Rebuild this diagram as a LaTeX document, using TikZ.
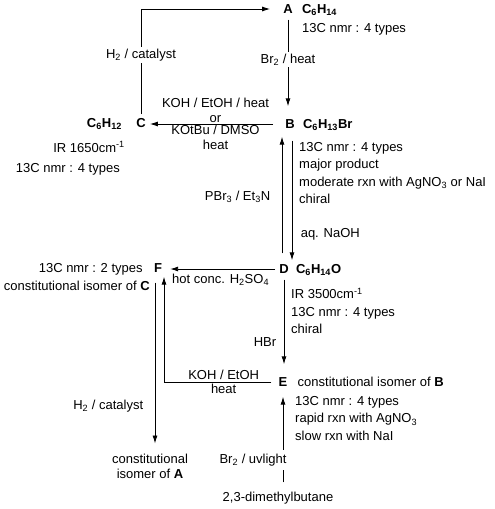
\documentclass[tikz,border=0pt]{standalone}
\usepackage{fontspec}
\setmainfont{Liberation Sans}
\usetikzlibrary{arrows.meta, positioning}

\newcommand{\chemfont}{\fontsize{13}{17.5}\selectfont}
\newcommand{\condfont}{\fontsize{13}{15}\selectfont}
\newcommand{\chsub}[1]{\textsubscript{#1}}
\newcommand{\chsup}[1]{\textsuperscript{#1}}

\tikzstyle{cmpd}    = [font=\chemfont\bfseries, inner sep=4pt]
\tikzstyle{formula} = [font=\chemfont\bfseries, inner sep=0pt]
\tikzstyle{info}    = [font=\chemfont, inner sep=0pt, align=left]
\tikzstyle{cond}    = [font=\condfont, inner sep=2pt, align=center]
\tikzstyle{arrow}   = [line width=0.9pt, -{Latex[length=8pt,width=5pt]}]

\begin{document}
\begin{tikzpicture}[x=1pt, y=-1pt, every node/.style={font=\chemfont}]
  \useasboundingbox (0,0) rectangle (495,509);

  % compounds
  \node[cmpd] (A) at (288,9)   {A};
  \node[cmpd] (B) at (290,124) {B};
  \node[cmpd] (C) at (141,123) {C};
  \node[cmpd] (D) at (284,269) {D};
  \node[cmpd] (E) at (283,382) {E};
  \node[cmpd] (F) at (158,268) {F};
  \node (isoA) [cond] at (150,466) {constitutional\\isomer of \textbf{A}};
  \node (dmb)  at (278,498) {2,3-dimethylbutane};

  % formulas and data
  \node[formula, base right=5pt of A] (Aform) {C\chsub{6}H\chsub{14}};
  \node[info, anchor=west] (Ainfo) at (302,29) {13C nmr : 4 types};

  \node[formula, base right=4pt of B] (Bform) {C\chsub{6}H\chsub{13}Br};
  \node[info, anchor=north west] (Binfo) at (299,142)
    {13C nmr : 4 types\\major product\\moderate rxn with AgNO\chsub{3} or NaI\\chiral};

  \node[formula, base left=10pt of C] (Cform) {C\chsub{6}H\chsub{12}};
  \node[info, anchor=east] (Cir)  at (125,147) {IR 1650cm\chsup{-1}};
  \node[info, anchor=east] (Cnmr) at (120,169) {13C nmr : 4 types};

  \node[formula, base right=3pt of D] (Dform) {C\chsub{6}H\chsub{14}O};
  \node[info, anchor=north west] (Dinfo) at (291,288)
    {IR 3500cm\chsup{-1}\\13C nmr : 4 types\\chiral};

  \node[info, base right=6pt of E] (Eiso) {constitutional isomer of \textbf{B}};
  \node[info, anchor=north west] (Einfo) at (295,396)
    {13C nmr : 4 types\\rapid rxn with AgNO\chsub{3}\\slow rxn with NaI};

  \node[info, base left=7pt of F] (Fnmr) {13C nmr : 2 types};
  \node[info, anchor=east] (Fiso) at (150,286) {constitutional isomer of \textbf{C}};

  % reactions
  \draw[arrow, shorten >=9pt] (C.north) |- node[cond, fill=white, pos=0.28]{H\chsub{2} / catalyst} (A.west);
  \draw[arrow, shorten <=2pt, shorten >=9pt] (A.south) -- node[cond, fill=white, pos=0.43]{Br\chsub{2} / heat} (A.south |- B.north);
  \draw[arrow, shorten <=8pt] (B.west) -- node[cond, above, inner sep=1pt]{KOH / EtOH / heat\\or}
    node[cond, below, inner sep=1pt]{KOtBu / DMSO\\heat} (B.west -| C.east);
  \draw[arrow, shorten <=8pt] ([xshift=2pt]B.south) -- node[right=5pt, pos=0.8]{aq. NaOH} ([xshift=2pt]B.south |- D.north);
  \draw[arrow, shorten <=7pt, shorten >=4pt] ([xshift=-2pt]D.north) -- node[left=8pt]{PBr\chsub{3} / Et\chsub{3}N} ([xshift=-2pt]D.north |- B.south);
  \draw[arrow, shorten >=4pt] (D.west) -- node[below=1pt]{hot conc. H\chsub{2}SO\chsub{4}} (D.west -| F.east);
  \draw[arrow, shorten <=2pt, shorten >=9pt] (D.south) -- node[left=4pt, pos=0.67]{HBr} (D.south |- E.north);
  \draw[arrow, shorten <=3pt] (E.west) -| node[cond, above, pos=0.23]{KOH / EtOH} node[cond, below, pos=0.23]{heat} ([xshift=6pt]F.south);
  \draw[arrow, shorten <=6pt, shorten >=8pt] ([xshift=-3pt]F.south) -- node[left=8pt, pos=0.74]{H\chsub{2} / catalyst} ([xshift=-3pt]F.south |- isoA.north);
  \draw[arrow, shorten <=6pt, shorten >=6pt] (dmb.north -| E.south) -- node[cond, fill=white, inner ysep=4pt, anchor=east, xshift=6pt, pos=0.29]{Br\chsub{2} / uvlight} (E.south);
\end{tikzpicture}
\end{document}
